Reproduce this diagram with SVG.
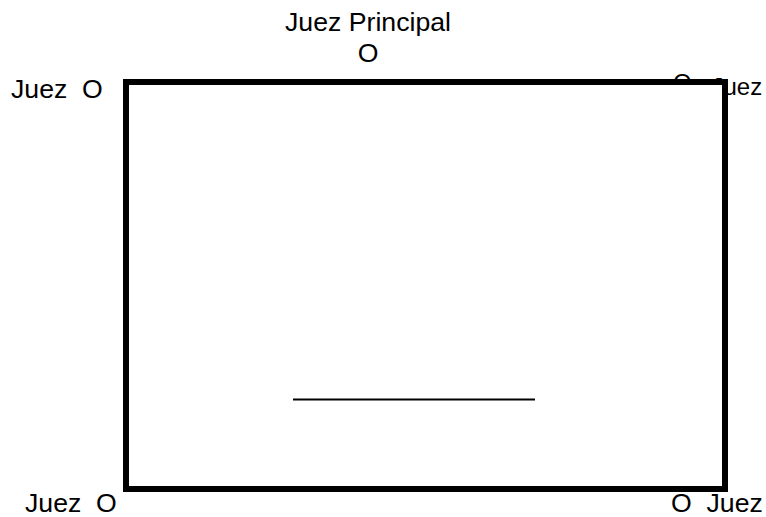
<svg xmlns="http://www.w3.org/2000/svg" width="766" height="517" viewBox="0 0 766 517">
<style>
text{font-family:"Liberation Sans",Arial,Helvetica,sans-serif;font-size:26.67px;fill:#000}
.mid{text-anchor:middle}
.sm{font-size:24px}
</style>
<rect width="766" height="517" fill="#fff"/>
<g id="juez-principal">
<text class="mid" x="368" y="31">Juez Principal</text>
<text class="mid" x="368" y="62">O</text>
</g>
<g id="juez-top-left"><text x="11" y="98" xml:space="preserve">Juez  O</text></g>
<g id="juez-top-right"><text class="sm"><tspan x="673" y="91">O</tspan><tspan x="711.5" y="95">Juez</tspan></text></g>
<g id="juez-bottom-left"><text x="25" y="512" xml:space="preserve">Juez  O</text></g>
<g id="juez-bottom-right"><text x="671" y="512" xml:space="preserve">O  Juez</text></g>
<g id="field">
<rect x="126" y="82" width="599" height="407" fill="#fff" stroke="#000" stroke-width="6"/>
</g>
<g id="connectors">
<line x1="293" y1="399.5" x2="535" y2="399.5" stroke="#000" stroke-width="2"/>
</g>
</svg>
